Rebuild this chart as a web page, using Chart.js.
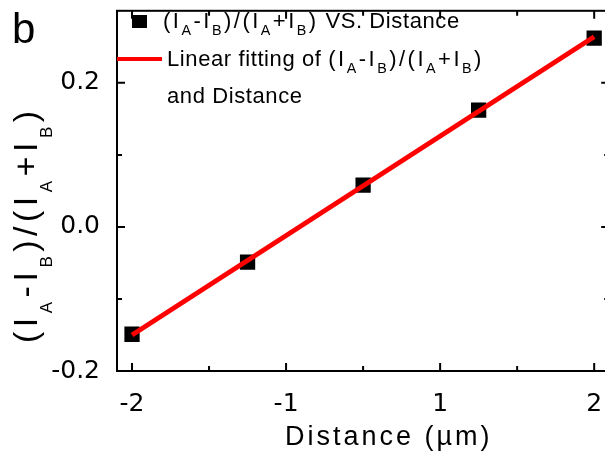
<!DOCTYPE html>
<html>
<head>
<meta charset="utf-8">
<script src="https://cdn.jsdelivr.net/npm/chart.js@4.4.1/dist/chart.umd.min.js"></script>
<style>
  body { margin: 0; overflow: hidden; background: #fff; }
</style>
</head>
<body>
<canvas class="myChart" width="620" height="455"></canvas>
<script>
// values
const distance = [-2, -1, 0, 1, 2];
const ratio = [-0.149, -0.049, 0.058, 0.162, 0.262];
const fitDistance = [-2, 2];
const fitRatio = [-0.150, 0.264];
// the original axis labels its major ticks -2, -1, 1, 2 at even spacing
const xTickValues = [-2, -2 / 3, 2 / 3, 2];
const xTickLabels = ['-2', '-1', '1', '2'];
const xMinorTicks = [-4 / 3, 0, 4 / 3];
const yTickValues = [-0.2, 0, 0.2];
const yTickLabels = ['-0.2', '0.0', '0.2'];
const yMinorTicks = [-0.1, 0.1];

// text with subscripts: [text, isSubscript]
const ratioText = [['(I', 0], ['A', 1], ['-I', 0], ['B', 1], [')/(I', 0], ['A', 1], ['+I', 0], ['B', 1], [')', 0]];
const legendLines = [
  [...ratioText, [' VS. Distance', 0]],
  [['Linear fitting of ', 0], ...ratioText],
  [['and Distance', 0]],
];
const xTitle = 'Distance (\u00b5m)';
const panelLabel = 'b';

const ctx = document.querySelector('.myChart').getContext('2d');

// draws char by char so letters can be spaced like the original
function drawRich(c, parts, x, y, opt) {
  let cx = x;
  parts.forEach(([txt, sub]) => {
    const size = sub ? opt.size * opt.subScale : opt.size;
    c.font = size + 'px ' + opt.family;
    const dy = sub ? opt.size * opt.subShift : 0;
    const gap = sub || /[()\/+\-I]/.test(txt) ? opt.richGap : opt.gap;
    for (const ch of txt) {
      c.fillText(ch, cx, y + dy);
      cx += c.measureText(ch).width + gap;
    }
  });
  return cx - x;
}

const framePlugin = {
  id: 'frame',
  afterDatasetsDraw(chart) {
    const { ctx: c, chartArea: a, scales: { x, y } } = chart;
    c.save();
    c.strokeStyle = '#000';
    c.lineWidth = 2;
    c.strokeRect(a.left, a.top, a.right - a.left, a.bottom - a.top);
    c.beginPath();
    const tickX = (v, len) => {
      const px = x.getPixelForValue(v);
      c.moveTo(px, a.bottom); c.lineTo(px, a.bottom - len);
      c.moveTo(px, a.top); c.lineTo(px, a.top + len);
    };
    const tickY = (v, len) => {
      const py = y.getPixelForValue(v);
      c.moveTo(a.left, py); c.lineTo(a.left + len, py);
      c.moveTo(a.right, py); c.lineTo(a.right - len, py);
    };
    xTickValues.forEach(v => tickX(v, 8));
    xMinorTicks.forEach(v => tickX(v, 5));
    yTickValues.forEach(v => tickY(v, 8));
    yMinorTicks.forEach(v => tickY(v, 5));
    c.stroke();
    c.restore();
  },
  afterDraw(chart) {
    const c = chart.ctx;
    c.save();
    c.fillStyle = '#000';
    c.textBaseline = 'alphabetic';
    c.textAlign = 'left';

    // legend
    c.fillRect(132, 15, 15, 13);
    c.strokeStyle = '#ff0000';
    c.lineWidth = 4;
    c.beginPath();
    c.moveTo(117, 59);
    c.lineTo(162, 59);
    c.stroke();
    const legendOpt = { size: 22, family: '"Liberation Sans", Arial', subScale: 0.65, subShift: 0.32, gap: 0.6, richGap: 2.5 };
    drawRich(c, legendLines[0], 163, 28, legendOpt);
    drawRich(c, legendLines[1], 167, 66, legendOpt);
    drawRich(c, legendLines[2], 167, 103, legendOpt);

    // axis titles
    drawRich(c, [[xTitle, 0]], 285, 445, { size: 27, family: '"Liberation Sans", Arial', subScale: 1, subShift: 0, gap: 3, richGap: 3 });
    c.save();
    c.translate(37, 343);
    c.rotate(-Math.PI / 2);
    drawRich(c, ratioText, 0, 0, { size: 34, family: '"Liberation Sans", Arial', subScale: 0.5, subShift: 0.44, gap: 4.5, richGap: 4.5 });
    c.restore();

    c.font = '42px "Liberation Sans", Arial';
    c.fillText(panelLabel, 12, 43);
    c.restore();
  },
};

new Chart(ctx, {
  type: 'scatter',
  data: {
    datasets: [
      {
        type: 'line',
        label: 'Linear fitting',
        data: fitDistance.map((d, i) => ({ x: d, y: fitRatio[i] })),
        borderColor: '#ff0000',
        borderWidth: 5,
        pointRadius: 0,
        order: 0,
      },
      {
        label: 'VS. Distance',
        data: distance.map((d, i) => ({ x: d, y: ratio[i] })),
        pointStyle: 'rect',
        pointRadius: 10.8,
        backgroundColor: '#000',
        borderWidth: 0,
        order: 1,
      },
    ],
  },
  options: {
    responsive: false,
    animation: false,
    devicePixelRatio: 1,
    layout: { padding: { top: 6, right: 10, left: 0, bottom: 0 } },
    plugins: { legend: { display: false }, tooltip: { enabled: false } },
    scales: {
      x: {
        type: 'linear',
        min: -2.13,
        max: 2.13,
        grid: { display: false },
        border: { display: false },
        afterBuildTicks: s => { s.ticks = xTickValues.map(v => ({ value: v })); },
        afterFit: s => {
          s.height = 84;
          s.paddingLeft = 0;
          s.paddingRight = 0;
          s.paddingTop = 0;
          s.paddingBottom = 0;
        },
        ticks: {
          autoSkip: false,
          maxRotation: 0,
          padding: 10,
          color: '#000',
          font: { family: '"DejaVu Sans"', size: 25 },
          callback: (v, i) => xTickLabels[i],
        },
      },
      y: {
        min: -0.2,
        max: 0.3,
        grid: { display: false },
        border: { display: false },
        afterBuildTicks: s => { s.ticks = yTickValues.map(v => ({ value: v })); },
        afterFit: s => {
          s.width = 117;
          s.paddingTop = 0;
          s.paddingBottom = 0;
        },
        ticks: {
          autoSkip: false,
          padding: 9,
          color: '#000',
          font: { family: '"DejaVu Sans"', size: 25, lineHeight: 0.4 },
          callback: (v, i) => yTickLabels[i],
        },
      },
    },
  },
  plugins: [framePlugin],
});
</script>
</body>
</html>
